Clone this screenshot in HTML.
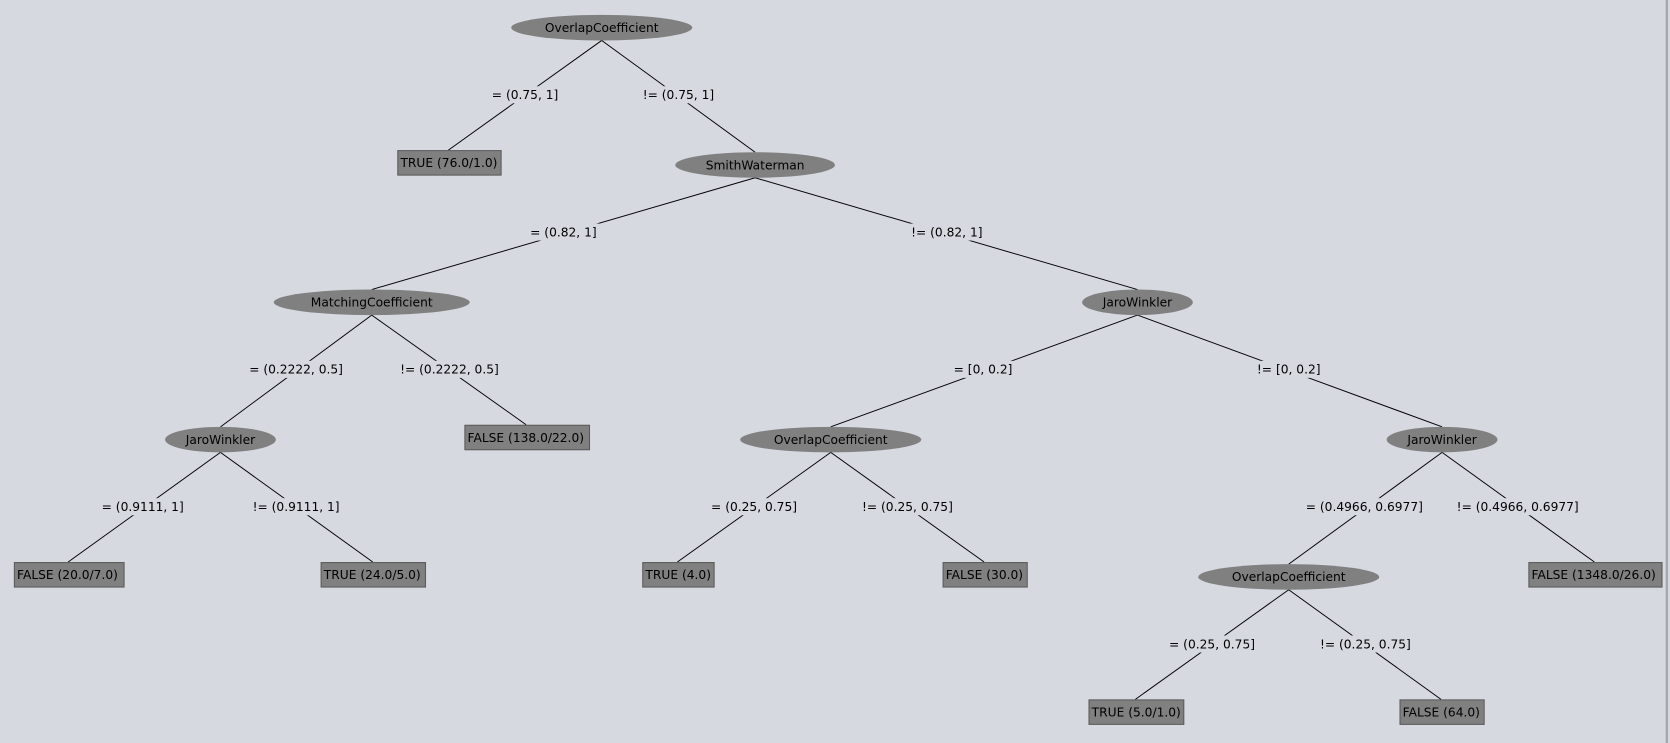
<!DOCTYPE html>
<html><head><meta charset="utf-8"><style>
html,body{margin:0;padding:0;background:#d6d9e0;overflow:hidden}
svg{display:block}
text{font-family:"DejaVu Sans","Liberation Sans",sans-serif;font-size:11.5px;fill:#000}
.e{fill:#808080}
.r{fill:#808080;stroke:#5a5a5a;stroke-width:1}
.l{stroke:#000;stroke-width:0.9}
.b{fill:#d6d9e0}
</style></head><body>
<svg width="1670" height="743" viewBox="0 0 1568 698" preserveAspectRatio="none" xmlns="http://www.w3.org/2000/svg">
<rect x="0" y="0" width="1568" height="698" fill="#d6d9e0"/>
<line x1="1565" y1="0" x2="1565" y2="698" stroke="#a0a3aa" stroke-width="2"/>
<g class="l">
<line x1="565" y1="38" x2="421" y2="141"/><line x1="565" y1="38" x2="709" y2="143"/>
<line x1="709" y1="167" x2="349" y2="272"/><line x1="709" y1="167" x2="1068" y2="272"/>
<line x1="349" y1="296" x2="207" y2="401"/><line x1="349" y1="296" x2="494" y2="399"/>
<line x1="1068" y1="296" x2="780" y2="401"/><line x1="1068" y1="296" x2="1354" y2="401"/>
<line x1="207" y1="425" x2="64" y2="528"/><line x1="207" y1="425" x2="350" y2="528"/>
<line x1="780" y1="425" x2="636" y2="528"/><line x1="780" y1="425" x2="924" y2="528"/>
<line x1="1354" y1="425" x2="1210" y2="530"/><line x1="1354" y1="425" x2="1497" y2="528"/>
<line x1="1210" y1="554" x2="1066" y2="657"/><line x1="1210" y1="554" x2="1353" y2="657"/>
</g>
<!-- label backgrounds -->
<g class="b">
<rect x="459" y="81" width="68" height="16"/><rect x="600" y="81" width="74" height="16"/>
<rect x="494" y="210" width="70" height="16"/><rect x="851" y="210" width="76" height="16"/>
<rect x="230" y="339" width="96" height="16"/><rect x="371" y="339" width="102" height="16"/>
<rect x="893" y="339" width="60" height="16"/><rect x="1176" y="339" width="68" height="16"/>
<rect x="92" y="468" width="84" height="16"/><rect x="233" y="468" width="90" height="16"/>
<rect x="664" y="468" width="88" height="16"/><rect x="805" y="468" width="94" height="16"/>
<rect x="1224" y="468" width="114" height="16"/><rect x="1365" y="468" width="120" height="16"/>
<rect x="1094" y="597" width="88" height="16"/><rect x="1235" y="597" width="94" height="16"/>
</g>
<g text-anchor="middle">
<text x="493" y="93">= (0.75, 1]</text><text x="637" y="93">!= (0.75, 1]</text>
<text x="529" y="222">= (0.82, 1]</text><text x="889" y="222">!= (0.82, 1]</text>
<text x="278" y="351">= (0.2222, 0.5]</text><text x="422" y="351">!= (0.2222, 0.5]</text>
<text x="923" y="351">= [0, 0.2]</text><text x="1210" y="351">!= [0, 0.2]</text>
<text x="134" y="480">= (0.9111, 1]</text><text x="278" y="480">!= (0.9111, 1]</text>
<text x="708" y="480">= (0.25, 0.75]</text><text x="852" y="480">!= (0.25, 0.75]</text>
<text x="1281" y="480">= (0.4966, 0.6977]</text><text x="1425" y="480">!= (0.4966, 0.6977]</text>
<text x="1138" y="609">= (0.25, 0.75]</text><text x="1282" y="609">!= (0.25, 0.75]</text>
</g>
<!-- ellipses -->
<ellipse class="e" cx="565" cy="26" rx="85" ry="12"/>
<ellipse class="e" cx="709" cy="155" rx="75" ry="12"/>
<ellipse class="e" cx="349" cy="284" rx="92" ry="12"/>
<ellipse class="e" cx="1068" cy="284" rx="52" ry="12"/>
<ellipse class="e" cx="207" cy="413" rx="52" ry="12"/>
<ellipse class="e" cx="780" cy="413" rx="85" ry="12"/>
<ellipse class="e" cx="1354" cy="413" rx="52" ry="12"/>
<ellipse class="e" cx="1210" cy="542" rx="85" ry="12"/>
<g text-anchor="middle">
<text x="565" y="30">OverlapCoefficient</text>
<text x="709" y="159">SmithWaterman</text>
<text x="349" y="288">MatchingCoefficient</text>
<text x="1068" y="288">JaroWinkler</text>
<text x="207" y="417">JaroWinkler</text>
<text x="780" y="417">OverlapCoefficient</text>
<text x="1354" y="417">JaroWinkler</text>
<text x="1210" y="546">OverlapCoefficient</text>
</g>
<!-- leaves -->
<rect class="r" x="373.5" y="141.5" width="97" height="23"/>
<rect class="r" x="436.5" y="399.5" width="117" height="23"/>
<rect class="r" x="13.5" y="528.5" width="103" height="23"/>
<rect class="r" x="301.5" y="528.5" width="98" height="23"/>
<rect class="r" x="603.5" y="528.5" width="67" height="23"/>
<rect class="r" x="885.5" y="528.5" width="79" height="23"/>
<rect class="r" x="1435.5" y="528.5" width="125" height="23"/>
<rect class="r" x="1022.5" y="657.5" width="89" height="23"/>
<rect class="r" x="1314.5" y="657.5" width="79" height="23"/>
<g>
<text x="376" y="157">TRUE (76.0/1.0)</text>
<text x="439" y="415">FALSE (138.0/22.0)</text>
<text x="16" y="544">FALSE (20.0/7.0)</text>
<text x="304" y="544">TRUE (24.0/5.0)</text>
<text x="606" y="544">TRUE (4.0)</text>
<text x="888" y="544">FALSE (30.0)</text>
<text x="1438" y="544">FALSE (1348.0/26.0)</text>
<text x="1025" y="673">TRUE (5.0/1.0)</text>
<text x="1317" y="673">FALSE (64.0)</text>
</g>
</svg>
</body></html>
